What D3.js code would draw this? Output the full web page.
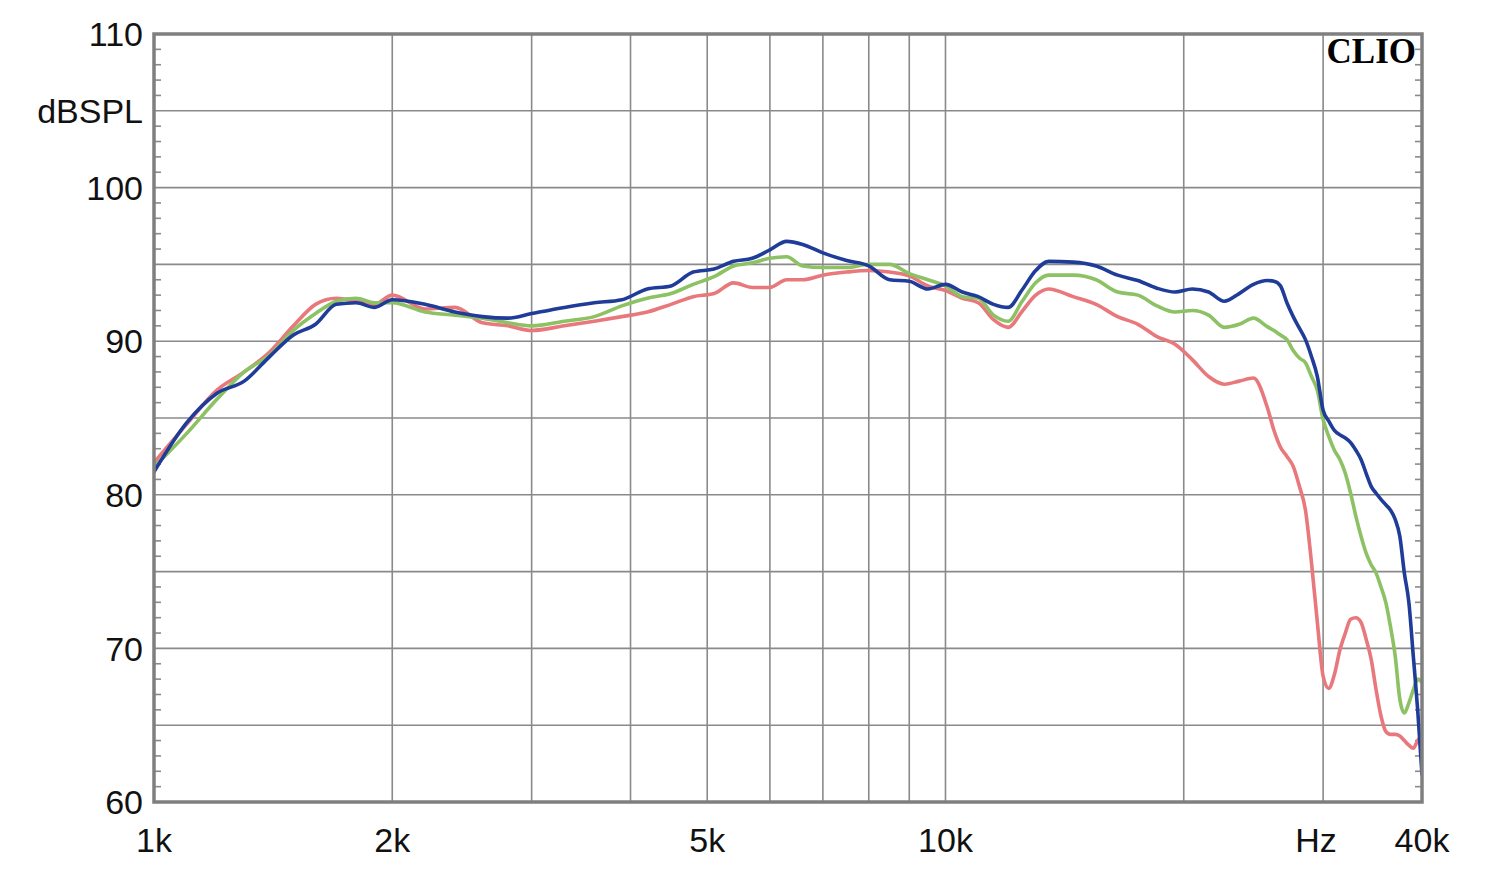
<!DOCTYPE html>
<html>
<head>
<meta charset="utf-8">
<script src="https://cdn.jsdelivr.net/npm/d3@7"></script>
<style>
html,body{margin:0;padding:0;background:#fff;}
svg{display:block;}
text.lbl{font-family:"Liberation Sans",Arial,sans-serif;fill:#111;}
text.logo{font-family:"Liberation Serif","Times New Roman",serif;font-weight:bold;fill:#000;}
</style>
</head>
<body>
<svg id="chart" width="1500" height="870"></svg>
<script>
// ---- data ----
const freqs = [1000,1100,1200,1300,1400,1500,1600,1700,1800,1900,2000,2200,2400,2600,2800,3000,3300,3600,3900,4200,4500,4800,5100,5400,5700,6000,6300,6600,7000,7500,8000,8500,9000,9500,10000,10500,11000,11500,12000,12500,13000,13500,14500,15500,16500,17500,18500,19500,20500,21500,22500,23500,24500,25500,26000,26500,27000,27500,28000,28500,29000,29500,30000,30500,31000,31500,32000,32500,33000,33500,34000,34500,35000,35500,36000,36500,37000,37500,38000,38500,39000,39500,40000];

const redSeries = [82.1,84.6,86.8,88.0,89.3,91.0,92.4,92.8,92.6,92.4,93.0,92.1,92.2,91.2,91.0,90.7,91.0,91.3,91.6,91.9,92.4,92.9,93.1,93.8,93.5,93.5,94.0,94.0,94.3,94.5,94.6,94.5,94.25,93.6,93.3,92.8,92.5,91.4,90.9,91.95,93.0,93.4,92.9,92.4,91.6,91.1,90.3,89.8,88.8,87.7,87.2,87.4,87.6,85.7,84.2,83.1,82.5,81.85,80.55,79.0,75.6,71.7,68.2,67.4,68.3,69.9,71.0,71.9,72.0,71.7,70.6,69.3,67.3,65.6,64.6,64.4,64.4,64.3,64.0,63.7,63.5,64.0,64.3];

const greenSeries = [81.8,84.0,86.2,88.0,89.1,90.7,91.8,92.6,92.8,92.5,92.5,91.9,91.7,91.5,91.2,91.0,91.3,91.6,92.3,92.8,93.1,93.7,94.2,94.9,95.1,95.4,95.5,94.9,94.8,94.8,95.0,95.0,94.4,94.0,93.6,92.9,92.8,91.7,91.3,92.6,93.8,94.3,94.3,94.0,93.2,93.0,92.3,91.9,92.0,91.7,90.9,91.1,91.5,90.95,90.7,90.4,90.1,89.4,88.9,88.6,87.7,86.8,84.9,83.8,82.9,82.3,81.4,80.1,78.6,77.3,76.2,75.45,74.9,74.0,73.0,71.4,69.5,66.7,65.8,66.45,67.3,68.0,67.8];

const blueSeries = [81.5,84.7,86.6,87.4,89.0,90.4,91.1,92.4,92.5,92.2,92.7,92.4,91.9,91.6,91.5,91.8,92.2,92.5,92.7,93.4,93.6,94.5,94.7,95.2,95.4,95.95,96.5,96.3,95.75,95.25,94.9,94.0,93.9,93.4,93.7,93.2,92.9,92.4,92.2,93.35,94.6,95.2,95.15,94.9,94.3,93.95,93.45,93.2,93.4,93.2,92.6,93.1,93.7,93.95,93.9,93.6,92.5,91.6,90.85,90.1,89.0,87.7,85.5,84.8,84.2,83.9,83.7,83.4,82.9,82.3,81.4,80.55,80.1,79.7,79.35,79.0,78.4,77.3,74.9,73.0,69.5,66.0,61.8];

const yTicks = [60,70,80,90,100,110];
const xTickLabels = [[1000,"1k"],[2000,"2k"],[5000,"5k"],[10000,"10k"],[30000,"Hz"],[40000,"40k"]];
const vGrid = [2000,3000,4000,5000,6000,7000,8000,9000,10000,20000,30000];
const seriesList = [
  {name:"red", values: redSeries, color:"#e8787b"},
  {name:"green", values: greenSeries, color:"#8cc164"},
  {name:"blue", values: blueSeries, color:"#1f3c98"}
];

// ---- layout ----
const L = 154, R = 1422, T = 34, B = 802;
const svg = d3.select("#chart");
svg.append("rect").attr("width",1500).attr("height",870).attr("fill","#fff");

const x = d3.scaleLog().domain([1000,40000]).range([L,R]);
const y = d3.scaleLinear().domain([60,110]).range([B,T]);

const gridColor = "#8a8a8a";
const g = svg.append("g");
d3.range(65,110,5).forEach(v=>{
  g.append("line").attr("x1",L).attr("x2",R).attr("y1",y(v)).attr("y2",y(v))
   .attr("stroke",gridColor).attr("stroke-width",1.6);
});
vGrid.forEach(f=>{
  g.append("line").attr("x1",x(f)).attr("x2",x(f)).attr("y1",T).attr("y2",B)
   .attr("stroke",gridColor).attr("stroke-width",1.6);
});
d3.range(61,110,1).filter(v=>v%5!==0).forEach(v=>{
  g.append("line").attr("x1",L).attr("x2",L+7).attr("y1",y(v)).attr("y2",y(v))
   .attr("stroke",gridColor).attr("stroke-width",1.6);
  g.append("line").attr("x1",R-7).attr("x2",R).attr("y1",y(v)).attr("y2",y(v))
   .attr("stroke",gridColor).attr("stroke-width",1.6);
});

// curves
svg.append("clipPath").attr("id","clip").append("rect")
  .attr("x",L).attr("y",T).attr("width",R-L).attr("height",B-T);
const line = d3.line()
  .x((d,i)=>x(freqs[i]))
  .y(d=>y(d))
  .curve(d3.curveMonotoneX);
const cg = svg.append("g").attr("clip-path","url(#clip)");
seriesList.forEach(s=>{
  cg.append("path").attr("d",line(s.values)).attr("fill","none")
    .attr("stroke",s.color).attr("stroke-width",3.6)
    .attr("stroke-linejoin","round").attr("stroke-linecap","round");
});

// frame
svg.append("rect").attr("x",L).attr("y",T).attr("width",R-L).attr("height",B-T)
  .attr("fill","none").attr("stroke","#7f7f7f").attr("stroke-width",3.5);

// y labels
yTicks.forEach(v=>{
  svg.append("text").attr("class","lbl").attr("x",143).attr("y",y(v)).attr("dy","0.36em")
    .attr("text-anchor","end").attr("font-size",34).text(v);
});
svg.append("text").attr("class","lbl").attr("x",143).attr("y",y(105)).attr("dy","0.36em")
  .attr("text-anchor","end").attr("font-size",34).text("dBSPL");

// x labels
xTickLabels.forEach(([f,t])=>{
  let xx = x(f);
  if (t==="Hz") xx = 1316;
  svg.append("text").attr("class","lbl").attr("x",xx).attr("y",852)
    .attr("text-anchor","middle").attr("font-size",34).text(t);
});

// CLIO logo
svg.append("text").attr("class","logo").attr("x",1416).attr("y",63).attr("text-anchor","end")
  .attr("font-size",35).text("CLIO");
</script>
</body>
</html>
